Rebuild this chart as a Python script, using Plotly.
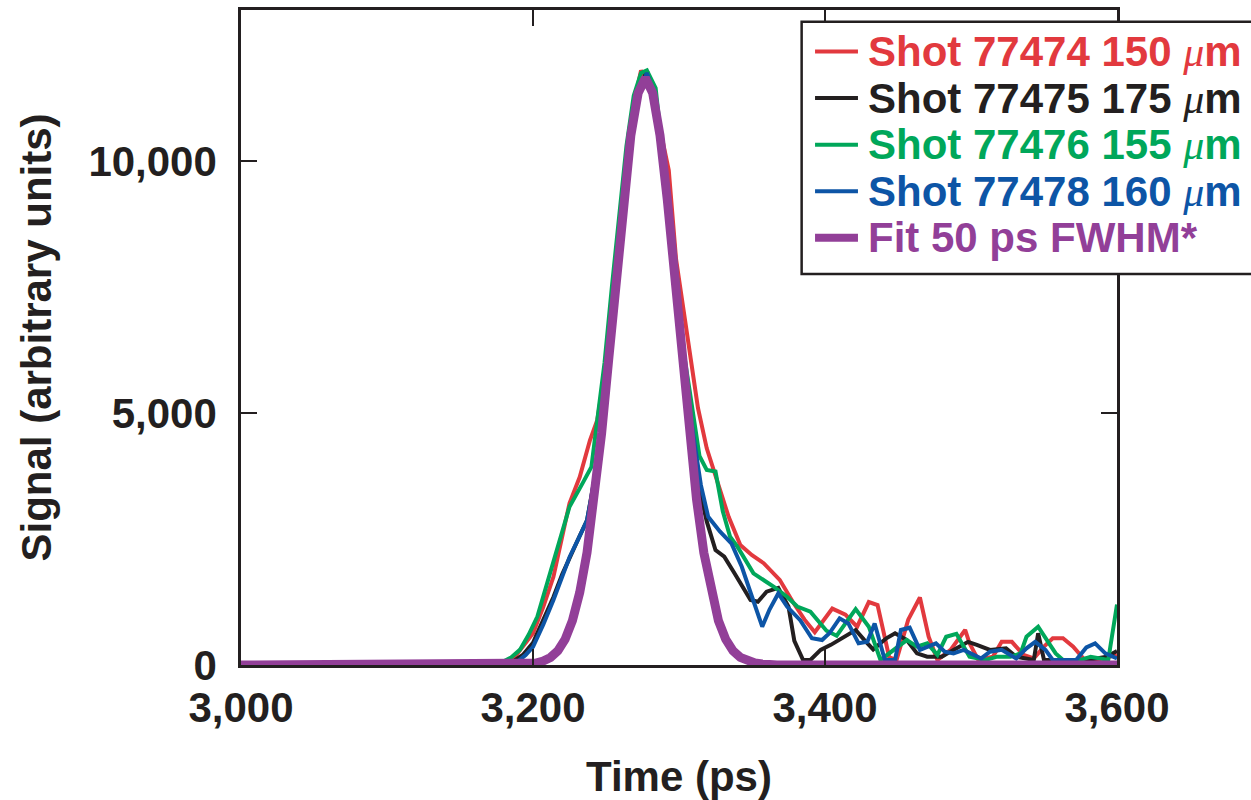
import plotly.graph_objects as go

# ---- data ----
t_red = [3000, 3180, 3186, 3193, 3200, 3207, 3214, 3220, 3225, 3232, 3239, 3244, 3251, 3256, 3261, 3266,
         3271, 3274, 3278, 3283, 3288, 3293, 3298, 3304, 3309, 3313, 3319, 3326, 3334, 3342, 3350, 3358,
         3369, 3378, 3386, 3393, 3405, 3414, 3422, 3430, 3436, 3444, 3449, 3457, 3465, 3471, 3477, 3486,
         3496, 3499, 3505, 3515, 3521, 3528, 3536, 3543, 3550, 3556, 3563, 3570, 3577, 3586, 3595, 3600]
s_red = [0, 0, 100, 350, 630, 1150, 1750, 2550, 3210, 3730, 4460, 4860, 6100, 7700, 9230, 10500,
         11400, 11800, 11600, 11200, 10500, 9820, 8050, 6900, 5900, 5100, 4300, 3640, 2940, 2380, 2180, 2020,
         1690, 1250, 900, 650, 1120, 1000, 760, 1250, 1190, 150, 100, 900, 1340, 560, 100, 300,
         695, 430, 100, 165, 460, 460, 200, 130, 365, 530, 530, 365, 130, 100, 165, 200]

t_black = [3000, 3180, 3186, 3193, 3200, 3207, 3214, 3220, 3225, 3231, 3237, 3240, 3244, 3249, 3253, 3258,
           3263, 3268, 3273, 3278, 3282, 3287, 3292, 3297, 3302, 3307, 3313, 3319, 3325, 3331, 3338, 3344,
           3349, 3354, 3360, 3368, 3375, 3379, 3385, 3390, 3397, 3404, 3413, 3421, 3427, 3433, 3442, 3448,
           3456, 3463, 3470, 3480, 3488, 3498, 3504, 3513, 3524, 3531, 3543, 3546, 3550, 3565, 3580, 3593, 3600]
s_black = [0, 0, 60, 200, 440, 900, 1350, 1800, 2140, 2500, 2870, 3340, 4000, 4900, 6100, 7700,
           9230, 10500, 11400, 11800, 11400, 10500, 9200, 7700, 6200, 4900, 3610, 2850, 2280, 2150, 1820, 1550,
           1290, 1255, 1455, 1530, 1160, 480, 100, 100, 300, 400, 550, 695, 495, 310, 530, 630,
           495, 230, 165, 165, 300, 460, 400, 300, 330, 165, 100, 630, 100, 100, 100, 165, 280]

t_green = [3000, 3175, 3179, 3185, 3191, 3197, 3203, 3208, 3214, 3220, 3225, 3234, 3240, 3244, 3249, 3254,
           3259, 3264, 3269, 3274, 3278, 3284, 3289, 3294, 3299, 3303, 3307, 3310, 3314, 3319, 3325, 3330,
           3335, 3340, 3351, 3365, 3374, 3381, 3390, 3401, 3408, 3421, 3430, 3438, 3447, 3456, 3463, 3470,
           3477, 3483, 3490, 3499, 3510, 3518, 3527, 3534, 3538, 3546, 3552, 3558, 3563, 3575, 3582, 3588,
           3594, 3600]
s_green = [0, 0, 60, 150, 300, 600, 960, 1450, 2080, 2650, 3140, 3610, 3930, 4860, 6000, 7500,
           9000, 10300, 11300, 11750, 11800, 11450, 10100, 9000, 7600, 6250, 5500, 4920, 4150, 3870, 3840, 3050,
           2545, 2350, 1820, 1550, 1355, 1160, 1060, 680, 580, 1110, 760, 100, 300, 495, 365, 430,
           200, 560, 620, 165, 100, 165, 165, 230, 560, 760, 495, 230, 100, 100, 165, 130,
           100, 1200]

t_blue = [3000, 3185, 3189, 3195, 3200, 3207, 3214, 3220, 3225, 3231, 3237, 3240, 3244, 3249, 3253, 3258,
          3263, 3268, 3273, 3278, 3282, 3287, 3292, 3297, 3302, 3307, 3311, 3315, 3320, 3328, 3336, 3343,
          3350, 3357, 3362, 3368, 3374, 3383, 3391, 3398, 3403, 3410, 3416, 3423, 3429, 3434, 3441, 3448,
          3452, 3458, 3465, 3476, 3482, 3488, 3495, 3507, 3513, 3521, 3531, 3538, 3544, 3551, 3556, 3572,
          3579, 3585, 3592, 3600]
s_blue = [0, 0, 60, 200, 360, 800, 1290, 1750, 2140, 2500, 2870, 3340, 4000, 4860, 6100, 7700,
          9230, 10500, 11400, 11750, 11400, 10500, 9200, 7700, 6300, 5100, 4270, 3570, 2940, 2650, 2410, 1950,
          1355, 760, 1100, 1420, 1160, 890, 530, 495, 630, 925, 825, 430, 460, 825, 100, 100,
          695, 740, 300, 430, 265, 230, 300, 130, 265, 300, 130, 330, 460, 300, 100, 100,
          350, 430, 230, 130]

t_fit = [3000, 3187, 3192, 3197, 3202, 3207, 3212, 3217, 3222, 3227, 3232, 3237, 3242, 3247, 3252, 3257,
         3262, 3267, 3272, 3277, 3282, 3287, 3292, 3297, 3302, 3307, 3312, 3317, 3322, 3327, 3332, 3337,
         3342, 3347, 3352, 3357, 3362, 3367, 3600]
s_fit = [0, 0, 10, 20, 40, 80, 150, 280, 510, 880, 1440, 2230, 3290, 4600, 6110, 7710,
         9230, 10510, 11350, 11650, 11350, 10510, 9230, 7710, 6110, 4600, 3290, 2230, 1440, 880, 510, 280,
         150, 80, 40, 20, 10, 0, 0]

MU = "<span style='font-family:\"Liberation Serif\", \"DejaVu Serif\", serif;font-weight:normal'><i>μ</i></span>"
names = [f"Shot 77474 150 {MU}m", f"Shot 77475 175 {MU}m", f"Shot 77476 155 {MU}m",
         f"Shot 77478 160 {MU}m", "Fit 50 ps FWHM*"]
colors = ["#e2393e", "#231f20", "#00a75a", "#0d55a6", "#923f98"]
xs = [t_red, t_black, t_green, t_blue, t_fit]
ys = [s_red, s_black, s_green, s_blue, s_fit]
widths = [4, 4, 4, 4, 9]

FONT = "Liberation Sans, Arial, Helvetica, sans-serif"
INK = "#231f20"

fig = go.Figure()
for x, y, n, c, w in zip(xs, ys, names, colors, widths):
    fig.add_trace(go.Scatter(x=x, y=y, mode="lines", line=dict(color=c, width=w),
                             name=n, showlegend=False))

# ---- legend box (drawn in paper coordinates, it runs off the right edge like the original) ----
leg_x0, leg_x1, leg_y0, leg_y1 = 0.640, 1.20, 0.597, 0.982
fig.add_shape(type="rect", xref="paper", yref="paper", x0=leg_x0, x1=leg_x1, y0=leg_y0, y1=leg_y1,
              line=dict(color=INK, width=2.5), fillcolor="white", layer="above")
row_y = [0.9366, 0.8655, 0.7944, 0.7233, 0.6521]
for n, c, w, ry in zip(names, colors, widths, row_y):
    fig.add_shape(type="line", xref="paper", yref="paper", x0=0.6553, x1=0.7043, y0=ry, y1=ry,
                  line=dict(color=c, width=w if w < 5 else 8), layer="above")
    fig.add_annotation(xref="paper", yref="paper", x=0.7135, y=ry, xanchor="left", yanchor="middle",
                       text=n, showarrow=False,
                       font=dict(family=FONT, size=42, color=c, weight="bold"))

fig.update_layout(
    width=1251, height=800,
    margin=dict(l=241, r=134, t=10, b=135, autoexpand=False),
    paper_bgcolor="white", plot_bgcolor="white",
    font=dict(family=FONT, size=42, color=INK, weight="bold"),
    showlegend=False,
    xaxis=dict(
        range=[3000, 3600], dtick=200, tick0=3000, tickformat=",d",
        showgrid=False, zeroline=False,
        showline=True, linecolor=INK, linewidth=2.5, mirror="ticks",
        ticks="inside", ticklen=16, tickwidth=2, tickcolor=INK,
        ticklabelstandoff=4,
        title=dict(text="Time (ps)", standoff=34, font=dict(size=42, weight="bold")),
        tickfont=dict(size=42, weight="bold"),
    ),
    yaxis=dict(
        range=[0, 13000], dtick=5000, tickformat=",d",
        showgrid=False, zeroline=False,
        showline=True, linecolor=INK, linewidth=2.5, mirror="ticks",
        ticks="inside", ticklen=16, tickwidth=2, tickcolor=INK,
        ticklabelstandoff=13,
        title=dict(text="Signal (arbitrary units)", standoff=24, font=dict(size=42, weight="bold")),
        tickfont=dict(size=42, weight="bold"),
    ),
)

fig.write_html("out.html", config={"displayModeBar": False},
               post_script="document.body.style.margin='0px';")
